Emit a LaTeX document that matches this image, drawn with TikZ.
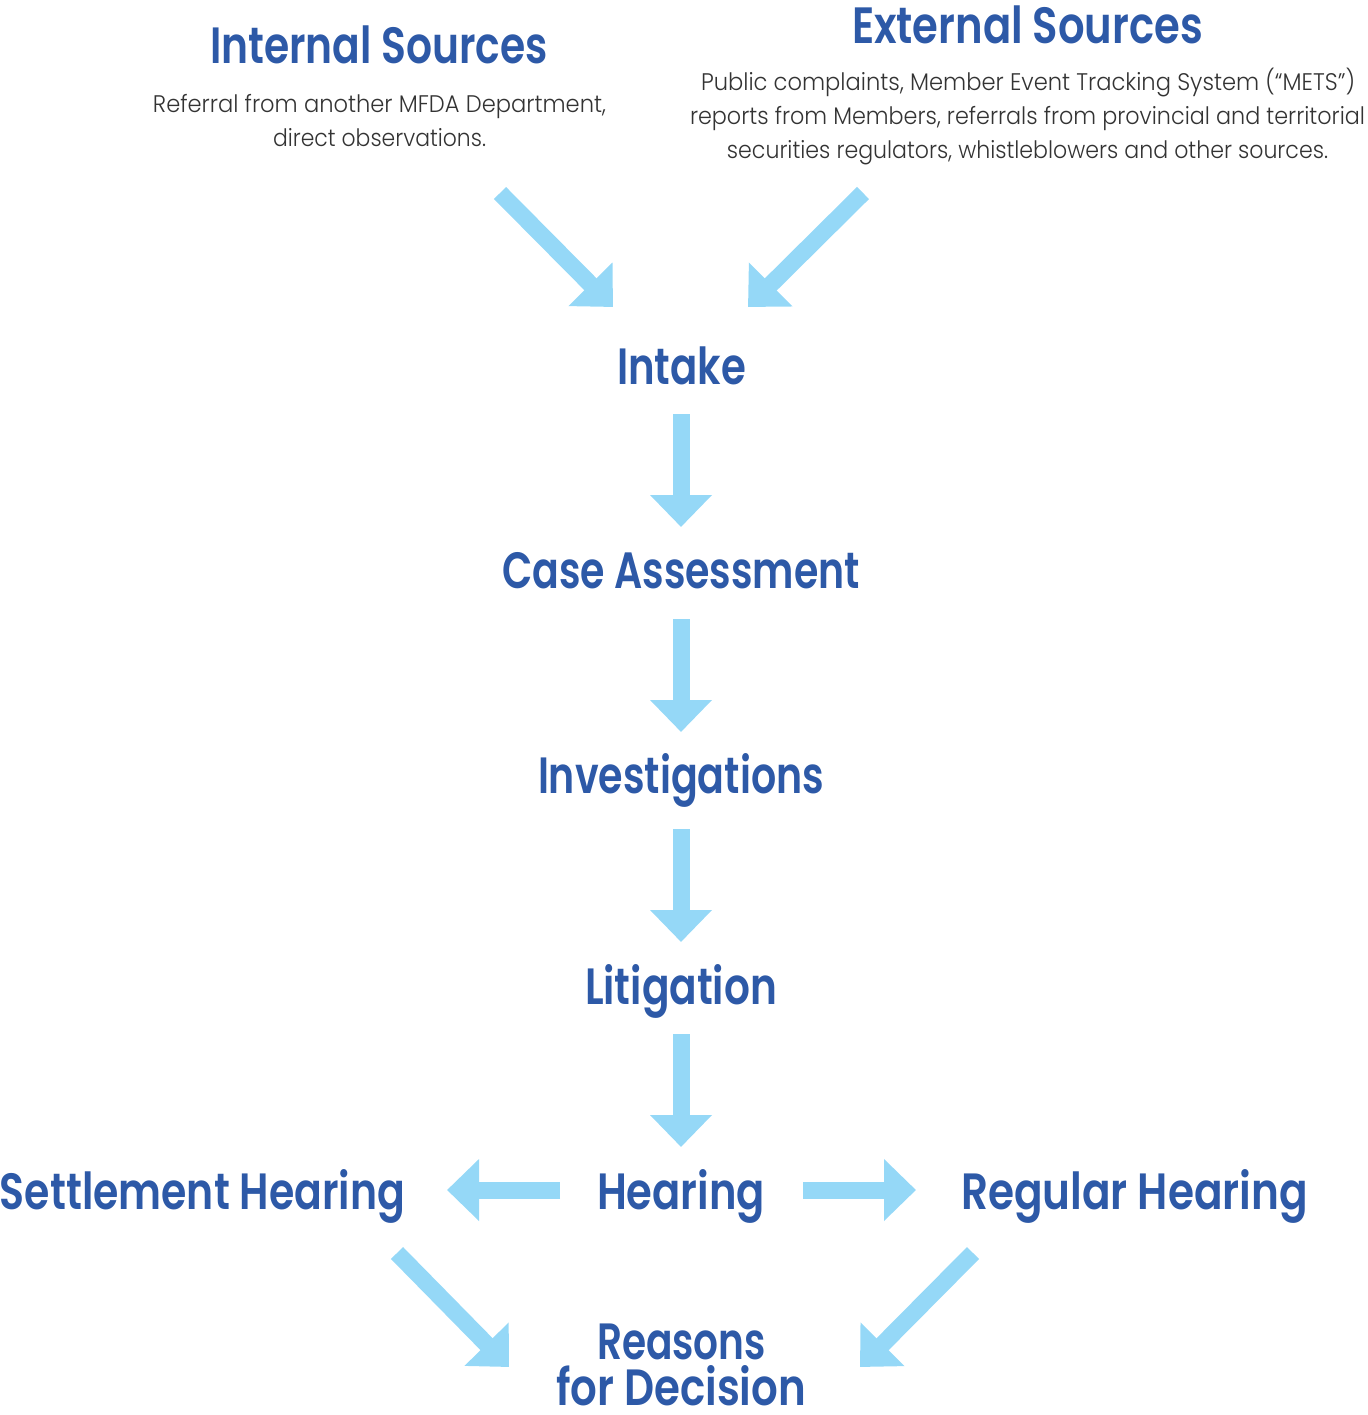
\documentclass[tikz,border=0pt]{standalone}
\usepackage{fontspec}
\usepackage{graphicx}
\usetikzlibrary{arrows.meta,calc}
\newfontfamily\headfont{Poppins SemiBold}
\newfontfamily\bodyfont{Poppins Light}
\definecolor{headblue}{HTML}{2D59A7}
\definecolor{arrowblue}{HTML}{95D8F7}
\definecolor{bodygray}{HTML}{333333}
\newcommand{\fitw}[2]{\resizebox{#1pt}{\height}{#2}}
\tikzset{
  head/.style={text=headblue, font=\headfont\fontsize{51}{60}\selectfont, inner sep=0pt, anchor=base},
  body/.style={text=bodygray, font=\bodyfont\fontsize{24}{30}\selectfont, inner sep=0pt, anchor=base},
  bigarrow/.style={line width=17pt, draw=arrowblue, line cap=butt,
    -{Triangle[width=60pt,length=32pt,fill=arrowblue]}}
}
\begin{document}
\begin{tikzpicture}[x=1pt,y=-1pt]
\useasboundingbox (0,0) rectangle (1367,1415);
% sources
\node[head] (internal) at (379,64) {\fitw{338}{Internal Sources}};
\node[body] (int1) at (379.5,113) {\fitw{453}{Referral from another MFDA Department,}};
\node[body] (int2) at (379.5,147) {\fitw{213}{direct observations.}};
\node[head] (external) at (1027.5,44) {\fitw{351}{External Sources}};
\node[body] (ext1) at (1028,91) {\fitw{654}{Public complaints, Member Event Tracking System (“METS”)}};
\node[body] (ext2) at (1027.5,125) {\fitw{675}{reports from Members, referrals from provincial and territorial}};
\node[body] (ext3) at (1027.5,159) {\fitw{601}{securities regulators, whistleblowers and other sources.}};
% steps
\node[head] (intake) at (681.5,384) {\fitw{129}{Intake}};
\node[head] (case) at (681,588) {\fitw{358}{Case Assessment}};
\node[head] (invest) at (681,793) {\fitw{286}{Investigations}};
\node[head] (litig) at (681,1004) {\fitw{192}{Litigation}};
\node[head] (hearing) at (681,1209) {\fitw{168}{Hearing}};
\node[head] (settle) at (202.5,1209) {\fitw{405}{Settlement Hearing}};
\node[head] (regular) at (1134.5,1209) {\fitw{347}{Regular Hearing}};
\node[head] (reasons) at (681.5,1359) {\fitw{169}{Reasons}};
\node[head] (decision) at (681,1405) {\fitw{250}{for Decision}};
% arrows
\draw[bigarrow] ($(int2.base)+(120.5,46)$) -- ($(intake.base)+(-68.5,-77)$);
\draw[bigarrow] ($(ext3.base)+(-164.5,34)$) -- ($(intake.base)+(66.5,-77)$);
\draw[bigarrow] ($(intake.base)+(-0.5,30)$) -- ($(case.base)+(0,-61)$);
\draw[bigarrow] ($(case.base)+(0,31)$) -- ($(invest.base)+(0,-61)$);
\draw[bigarrow] ($(invest.base)+(0,36)$) -- ($(litig.base)+(0,-62)$);
\draw[bigarrow] ($(litig.base)+(0,30)$) -- ($(hearing.base)+(0,-62)$);
\draw[bigarrow] ($(hearing.base)+(-121,-19)$) -- ($(settle.base)+(244.5,-19)$);
\draw[bigarrow] ($(hearing.base)+(122,-19)$) -- ($(regular.base)+(-218.5,-19)$);
\draw[bigarrow] ($(settle.base)+(194.5,44)$) -- ($(reasons.base)+(-172.5,8)$);
\draw[bigarrow] ($(regular.base)+(-161.5,44)$) -- ($(reasons.base)+(178.5,8)$);
\end{tikzpicture}
\end{document}
